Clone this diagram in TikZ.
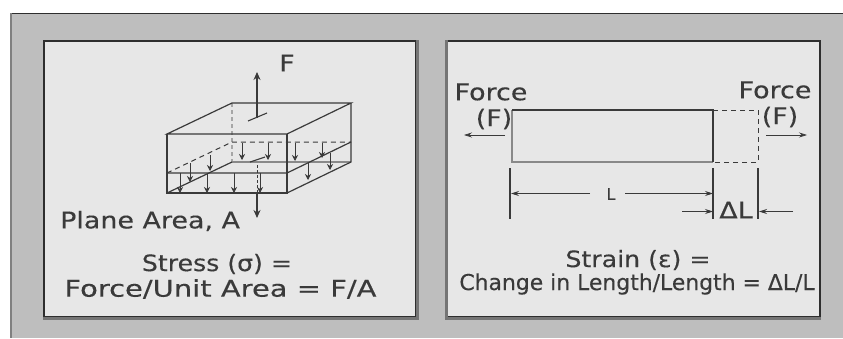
\documentclass[tikz,border=0pt]{standalone}
\usepackage{fontspec}
\setmainfont{DejaVu Sans}
\newfontfamily\widefont[FakeStretch=1.17,FakeBold=0.25]{DejaVu Sans}
\newfontfamily\widerfont[FakeStretch=1.26,FakeBold=0.25]{DejaVu Sans}
\newfontfamily\midfont[FakeStretch=1.12,FakeBold=0.25]{DejaVu Sans}
\newfontfamily\plainfont[FakeBold=0.2]{DejaVu Sans}
\usetikzlibrary{arrows.meta}
\definecolor{bg}{HTML}{BEBEBE}
\definecolor{panel}{HTML}{E7E7E7}
\definecolor{ink}{HTML}{3A3A3A}
\definecolor{frame}{HTML}{2E2E2E}
\tikzset{
  x=1pt,y=-1pt,
  panelbox/.style={draw=frame,fill=panel,line width=2pt},
  panelshade/.style={draw=ink!70,line width=3pt},
  blockline/.style={draw=ink,line width=1.2pt},
  thickgray/.style={draw=ink!60,line width=2.6pt},
  dashline/.style={draw=ink,line width=1pt,dash pattern=on 5pt off 4pt},
  dotline/.style={draw=ink!45,line width=2.2pt,dash pattern=on 4pt off 3pt},
  stressarrow/.style={draw=ink,line width=.7pt,-{Stealth[length=6pt,width=6pt]}},
  forcearrow/.style={draw=ink,line width=1.1pt,-{Stealth[length=8pt,width=7pt]}},
  dimarrow/.style={draw=ink,line width=.7pt,-{Stealth[length=8pt,width=5pt]}},
  extline/.style={draw=ink,line width=1.1pt},
  lab/.style={text=ink,inner sep=0pt,font=\widefont\fontsize{23}{26}\selectfont},
  longlab/.style={text=ink,inner sep=0pt,font=\widerfont\fontsize{23}{26}\selectfont},
  formula/.style={text=ink,inner sep=0pt,font=\midfont\fontsize{22.5}{26}\selectfont},
  smalllab/.style={text=ink,inner sep=0pt,font=\plainfont\fontsize{21.9}{24}\selectfont},
  tinylab/.style={text=ink,inner sep=0pt,font=\plainfont\fontsize{16}{18}\selectfont}
}
\begin{document}
\begin{tikzpicture}
\useasboundingbox (0,0) rectangle (843,338);
\fill[bg] (10,13) rectangle (843,338);
\draw[frame,line width=1pt] (10,13.5) -- (843,13.5);
\draw[gray,line width=2.5pt] (11.2,13) -- (11.2,338);
\node[panelbox,minimum width=372pt,minimum height=276pt,inner sep=0pt] (p1) at (230,179) {};
\node[panelbox,minimum width=373pt,minimum height=276pt,inner sep=0pt] (p2) at (633.5,179) {};
\draw[panelshade] (p1.north east) -- (p1.south east) -- (p1.south west);
\draw[panelshade] (p2.north west) -- (p2.south west) -- (p2.south east);
% block corners
\coordinate (ftl) at (167,134); \coordinate (ftr) at (287,134);
\coordinate (fbl) at (167,193); \coordinate (fbr) at (287,193);
\coordinate (btl) at (232,103); \coordinate (btr) at (351,103);
\coordinate (bbl) at (232,162); \coordinate (bbr) at (351,162);
\coordinate (fml) at (167,173); \coordinate (fmr) at (287,173);
\coordinate (bml) at (232,142); \coordinate (bmr) at (351,142);
\draw[dotline] (btl) -- (bbl);
\draw[thickgray] (bbl) -- (bbr);
\draw[thickgray] (ftl) -- (fbl);
\draw[blockline] (ftl) -- (btl) -- (btr) -- (ftr) -- cycle;
\draw[blockline] (ftl) -- (fbl) -- (fbr) -- (ftr);
\draw[blockline] (btr) -- (bbr) -- (fbr);
\draw[blockline] (fbl) -- (bbl);
\draw[blockline] (fml) -- (fmr) -- (bmr);
\draw[dashline] (fml) -- (bml) -- (bmr);
% small stress arrows
\foreach \n/\xa/\ya/\yb in {a/180/173/193,b/207/173/193,c/234/173/193,d/260/173/193,
  e/190/163/182,f/210/155/171,g/242/143/160,h/268/143/160,i/295/143/161,j/322/143/158,
  k/308/162/180,l/330/153/170}{
  \coordinate (s\n) at (\xa,\ya); \coordinate (t\n) at (\xa,\yb);
  \draw[stressarrow] (s\n) -- (t\n);
}
% applied force
\coordinate (ftop) at (257,72); \coordinate (fbase) at (257,118);
\coordinate (hta) at (248,121); \coordinate (htb) at (267,113);
\draw[forcearrow] (fbase) -- (ftop);
\draw[extline] (hta) -- (htb);
\coordinate (hba) at (250,162); \coordinate (hbb) at (265,157);
\draw[extline] (hba) -- (hbb);
\coordinate (dtop) at (257,165); \coordinate (dmid) at (257,193); \coordinate (dbot) at (257,218);
\draw[draw=ink,line width=1pt,dash pattern=on 3pt off 2pt] (dtop) -- (dmid);
\draw[forcearrow] (dmid) -- (dbot);
\node[lab] (fl) at (287,63) {F};
\node[lab,anchor=west] (pa) at (60,221) {Plane Area, A};
\node[formula] (st1) at (217,264) {Stress (σ) =};
\node[longlab] (st2) at (220.5,289) {Force/Unit Area = F/A};
% bar
\coordinate (tl) at (512,110); \coordinate (tr) at (713,110);
\coordinate (bl) at (512,162); \coordinate (br) at (713,162);
\coordinate (dtr) at (758,110); \coordinate (dbr) at (758,162);
\draw[thickgray] (tl) -- (bl) -- (br);
\draw[blockline] (tl) -- (tr) -- (br);
\draw[dashline] (tr) -- (dtr) -- (dbr) -- (br);
\coordinate (e1a) at (510,168); \coordinate (e1b) at (510,219);
\coordinate (e2a) at (713,168); \coordinate (e2b) at (713,219);
\coordinate (e3a) at (758,168); \coordinate (e3b) at (758,219);
\draw[extline] (e1a) -- (e1b); \draw[extline] (e2a) -- (e2b); \draw[extline] (e3a) -- (e3b);
\node[tinylab] (ll) at (611,194) {L};
\coordinate (l1) at (511,193.5); \coordinate (l2) at (713,193.5);
\coordinate (ls) at (590,193.5); \coordinate (rs) at (625,193.5);
\draw[dimarrow] (ls) -- (l1);
\draw[dimarrow] (rs) -- (l2);
\coordinate (da) at (682,211.5); \coordinate (db) at (713,211.5);
\coordinate (dc) at (793,211.5); \coordinate (dd) at (759,211.5);
\draw[dimarrow] (da) -- (db); \draw[dimarrow] (dc) -- (dd);
\node[lab] (dl) at (736,210) {ΔL};
\coordinate (fa1) at (505,135); \coordinate (fa2) at (464,135);
\coordinate (fb1) at (766,135); \coordinate (fb2) at (807,135);
\draw[dimarrow] (fa1) -- (fa2); \draw[dimarrow] (fb1) -- (fb2);
\node[lab] (f1) at (491,92) {Force};
\node[lab] (f2) at (494,119) {(F)};
\node[lab] (f3) at (775,90) {Force};
\node[lab] (f4) at (780,117) {(F)};
\node[formula] (st3) at (638,260) {Strain (ε) =};
\node[smalllab] (st4) at (637,284) {Change in Length/Length = ΔL/L};
\end{tikzpicture}
\end{document}
